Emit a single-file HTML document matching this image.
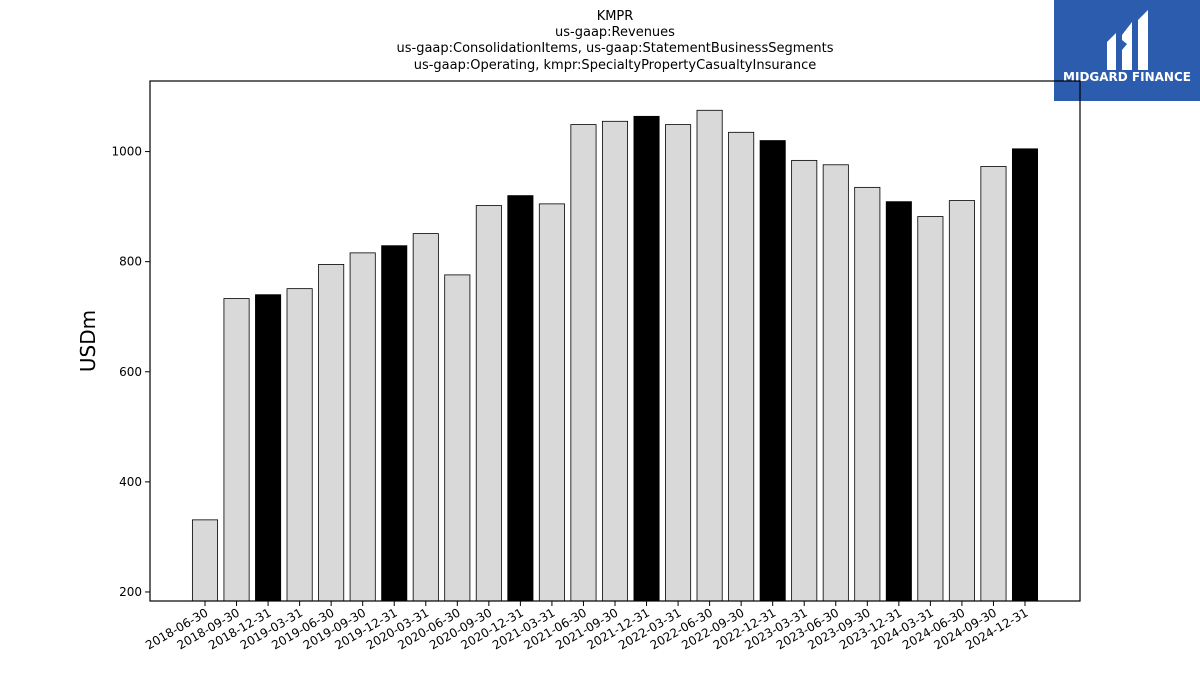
<!DOCTYPE html>
<html><head><meta charset="utf-8"><style>
body{margin:0;width:1200px;height:675px;background:#fff;overflow:hidden;font-family:"Liberation Sans","DejaVu Sans",sans-serif}
svg text{font-family:"DejaVu Sans","Liberation Sans",sans-serif}
</style></head><body>
<svg id="chart" width="1200" height="675" xmlns="http://www.w3.org/2000/svg">
<g font-size="13" text-anchor="middle" fill="#000">
<text x="615" y="20">KMPR</text>
<text x="615" y="36">us-gaap:Revenues</text>
<text x="615" y="52">us-gaap:ConsolidationItems, us-gaap:StatementBusinessSegments</text>
<text x="615" y="69">us-gaap:Operating, kmpr:SpecialtyPropertyCasualtyInsurance</text>
</g>
<g>
<rect x="1054" y="0" width="146" height="101" fill="#2b5cad"/>
<path d="M1107 42 L1116 33 L1116 70 L1107 70 Z" fill="#fff"/>
<path d="M1122 35 L1132 22 L1132 70 L1122 70 L1122 50 L1127 44 L1122 40 Z" fill="#fff"/>
<path d="M1138 20 L1148 10 L1148 70 L1138 70 Z" fill="#fff"/>
<text x="1127" y="81" font-size="12" font-weight="bold" fill="#fff" text-anchor="middle">MIDGARD FINANCE</text>
</g>
<g id="bars"></g>
<g id="axes"></g>
<text x="95" y="341" font-size="20" text-anchor="middle" transform="rotate(-90 95 341)">USDm</text>
</svg>
<script>
const categories=["2018-06-30","2018-09-30","2018-12-31","2019-03-31","2019-06-30","2019-09-30","2019-12-31","2020-03-31","2020-06-30","2020-09-30","2020-12-31","2021-03-31","2021-06-30","2021-09-30","2021-12-31","2022-03-31","2022-06-30","2022-09-30","2022-12-31","2023-03-31","2023-06-30","2023-09-30","2023-12-31","2024-03-31","2024-06-30","2024-09-30","2024-12-31"];
const values=[331,733,740,751,795,816,829,851,776,902,920,905,1049,1055,1064,1049,1075,1035,1020,984,976,935,909,882,911,973,1005];
const yTicks=[200,400,600,800,1000];
const NS="http://www.w3.org/2000/svg";
const L=150,R=1080,T=81,B=601;
const yMin=183.6,yMax=1128.2;
const y=v=>B-(v-yMin)/(yMax-yMin)*(B-T);
const step=(R-L)/(categories.length-1+2*1.744);
const x=i=>L+step*(i+1.744);
const bw=step*0.8;
const bars=document.getElementById('bars'),axes=document.getElementById('axes');
function mk(t,a,p){const e=document.createElementNS(NS,t);for(const k in a)e.setAttribute(k,a[k]);p.appendChild(e);return e;}
values.forEach((v,i)=>{
 const r=mk('rect',{x:x(i)-bw/2,y:y(v),width:bw,height:B-y(v),fill:categories[i].endsWith('12-31')?'#000':'#d9d9d9',stroke:'#000','stroke-width':0.8},bars);
 
 
 const tk=mk('line',{x1:x(i),x2:x(i),y1:B,y2:B+5,stroke:'#000'},axes);
 
 
 const t=mk('text',{x:x(i)+4,y:B+14,'font-size':12,'text-anchor':'end',transform:`rotate(-30 ${x(i)+4} ${B+14})`},axes);
 t.textContent=categories[i];
 
 
});
yTicks.forEach(v=>{
 const tk=mk('line',{x1:L-5,x2:L,y1:y(v),y2:y(v),stroke:'#000'},axes);
 
 
 const t=mk('text',{x:L-8,y:y(v)+4,'font-size':12,'text-anchor':'end'},axes);
 t.textContent=v;
 
 
});
const f=mk('rect',{x:L,y:T,width:R-L,height:B-T,fill:'none',stroke:'#000','stroke-width':1.2},axes);


</script>
</body></html>
